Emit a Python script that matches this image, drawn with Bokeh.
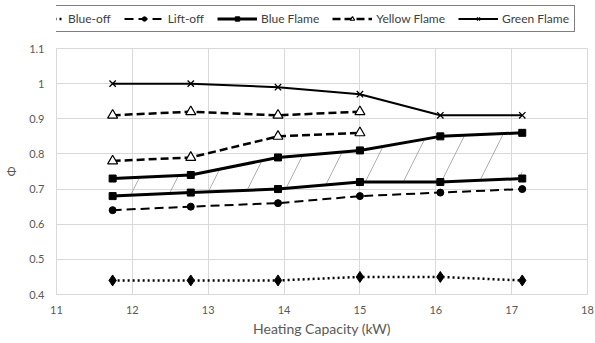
from bokeh.plotting import figure
from bokeh.layouts import column
from bokeh.models import Legend, LegendItem, FixedTicker, Range1d
from bokeh.embed import file_html
from bokeh.resources import INLINE

capacity = [11.74, 12.77, 13.92, 15.0, 16.06, 17.14]
capacity_yellow = [11.74, 12.77, 13.92, 15.0]
blue_off = [0.44, 0.44, 0.44, 0.45, 0.45, 0.44]
lift_off = [0.64, 0.65, 0.66, 0.68, 0.69, 0.70]
blue_flame_low = [0.68, 0.69, 0.70, 0.72, 0.72, 0.73]
blue_flame_high = [0.73, 0.74, 0.79, 0.81, 0.85, 0.86]
yellow_flame_low = [0.78, 0.79, 0.85, 0.86]
yellow_flame_high = [0.91, 0.92, 0.91, 0.92]
green_flame = [1.0, 1.0, 0.99, 0.97, 0.91, 0.91]

x_ticks = [11, 12, 13, 14, 15, 16, 17, 18]
y_ticks = [0.4, 0.5, 0.6, 0.7, 0.8, 0.9, 1.0, 1.1]
y_tick_labels = ["0.4", "0.5", "0.6", "0.7", "0.8", "0.9", "1", "1.1"]
series_names = ["Blue-off", "Lift-off", "Blue Flame", "Yellow Flame", "Green Flame"]

FONT = "Lato"
GRID = "#d9d9d9"
TXT = "#595959"
W = 595
H_LEG = 36
H_MAIN = 307

STY = {
    "Blue-off": dict(line=dict(line_width=2.5, line_dash="2 3"),
                     mark=dict(marker="diamond", size=11, color="black")),
    "Lift-off": dict(line=dict(line_width=2, line_dash="9 5"),
                     mark=dict(marker="circle", size=7, color="black")),
    "Blue Flame": dict(line=dict(line_width=3),
                       mark=dict(marker="square", size=7, color="black")),
    "Yellow Flame": dict(line=dict(line_width=2.5, line_dash="8 4"),
                         mark=dict(marker="triangle", size=10, fill_color="white",
                                   line_color="black", line_width=1.2)),
    "Green Flame": dict(line=dict(line_width=2),
                        mark=dict(marker="x", size=9, line_color="black", line_width=1.3)),
}


def draw(fig, name, xs, ys):
    s = STY[name]
    rl = fig.line(xs, ys, line_color="black", **s["line"])
    rm = fig.scatter(xs, ys, **s["mark"])
    return [rl, rm]


# ---------------- main chart ----------------
p = figure(width=W, height=H_MAIN, output_backend="svg", toolbar_location=None,
           x_range=Range1d(11, 18), y_range=Range1d(0.4, 1.1),
           min_border_left=53, min_border_right=8, min_border_top=12, min_border_bottom=49)
p.outline_line_color = GRID
p.background_fill_color = "white"
p.border_fill_color = "white"

for ax in (p.xaxis[0], p.yaxis[0]):
    ax.axis_line_color = GRID
    ax.major_tick_line_color = None
    ax.minor_tick_line_color = None
    ax.major_tick_out = 0
    ax.major_tick_in = 0
    ax.minor_tick_out = 0
    ax.major_label_text_font = FONT
    ax.major_label_text_font_size = "11px"
    ax.major_label_text_color = TXT
    ax.axis_label_text_font_style = "normal"
    ax.axis_label_text_color = TXT

p.xaxis.ticker = FixedTicker(ticks=x_ticks)
p.yaxis.ticker = FixedTicker(ticks=y_ticks)
p.yaxis.major_label_overrides = {t: l for t, l in zip(y_ticks, y_tick_labels)}
p.xaxis.axis_label = "Heating Capacity (kW)"
p.xaxis.axis_label_text_font = FONT
p.xaxis.axis_label_text_font_size = "14px"
p.xaxis.major_label_standoff = 11
p.xaxis.axis_label_standoff = 3
p.yaxis.axis_label = "Φ"
p.yaxis.axis_label_text_font = "Noto Sans"
p.yaxis.axis_label_text_font_size = "12px"
p.yaxis.major_label_standoff = 12
p.yaxis.axis_label_standoff = 6

p.xgrid.grid_line_color = GRID
p.ygrid.grid_line_color = GRID

p.varea(x=capacity, y1=blue_flame_low, y2=blue_flame_high, fill_alpha=0,
        hatch_pattern="/", hatch_color="#8c8c8c", hatch_weight=0.7, hatch_scale=76)

draw(p, "Blue-off", capacity, blue_off)
draw(p, "Lift-off", capacity, lift_off)
draw(p, "Blue Flame", capacity, blue_flame_low)
draw(p, "Blue Flame", capacity, blue_flame_high)
draw(p, "Yellow Flame", capacity_yellow, yellow_flame_low)
draw(p, "Yellow Flame", capacity_yellow, yellow_flame_high)
draw(p, "Green Flame", capacity, green_flame)

# ---------------- legend strip ----------------
pl = figure(width=W, height=H_LEG, output_backend="svg", toolbar_location=None,
            x_range=Range1d(0, 1), y_range=Range1d(0, 1),
            x_axis_type=None, y_axis_type=None,
            min_border_left=0, min_border_right=0, min_border_top=0, min_border_bottom=0)
pl.outline_line_color = None
pl.xgrid.visible = False
pl.ygrid.visible = False

leg_series = [blue_off, lift_off, blue_flame_low, yellow_flame_low, green_flame]
leg_x = [capacity, capacity, capacity, capacity_yellow, capacity]
items = []
for name, xs, ys in zip(series_names, leg_x, leg_series):
    items.append(LegendItem(label=name, renderers=draw(pl, name, xs, ys)))

legend = Legend(items=items, orientation="horizontal", location=(-38, 4))
legend.border_line_color = "black"
legend.border_line_width = 1
legend.background_fill_alpha = 1
legend.label_text_font = FONT
legend.label_text_font_size = "12px"
legend.label_text_color = "#404040"
legend.padding = 5
legend.spacing = 13
legend.glyph_width = 40
legend.glyph_height = 11
legend.label_height = 11
legend.label_standoff = 4
legend.margin = 0
pl.add_layout(legend, "center")

layout = column(pl, p, spacing=0)
open("out.html", "w").write(file_html(layout, INLINE))
